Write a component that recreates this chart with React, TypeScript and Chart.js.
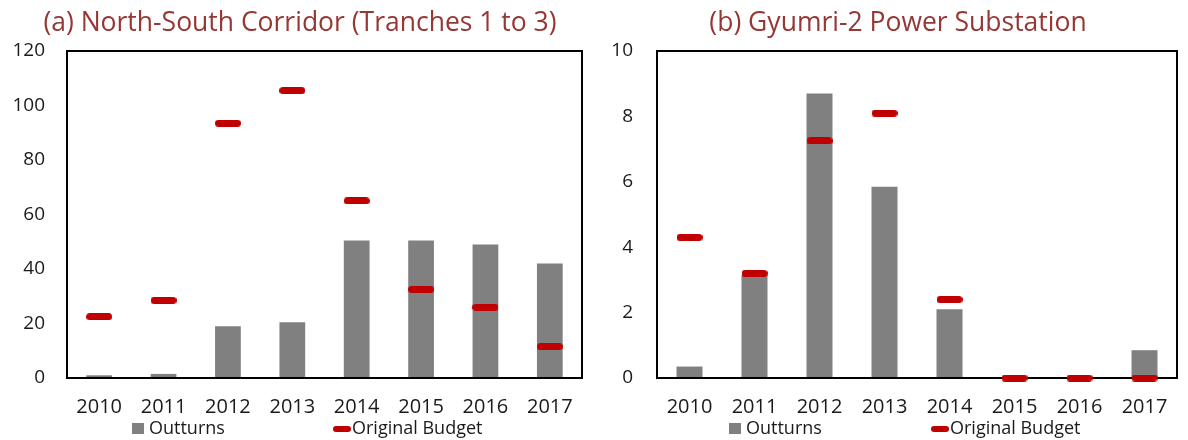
import React, { useEffect, useRef } from "react";
import { Chart, registerables } from "chart.js";

Chart.register(...registerables);

const years = ["2010", "2011", "2012", "2013", "2014", "2015", "2016", "2017"];
const nsOutturns = [1, 1.5, 19, 20.5, 50.5, 50.5, 49, 42];
const nsBudget = [22.5, 28.5, 93.5, 105.5, 65, 32.5, 26, 11.5];
const gyOutturns = [0.35, 3.15, 8.7, 5.85, 2.1, 0, 0, 0.85];
const gyBudget = [4.3, 3.2, 7.25, 8.1, 2.4, 0, 0, 0];
const nsAxis = { max: 120, step: 20 };
const gyAxis = { max: 10, step: 2 };
const titles = ["(a) North-South Corridor (Tranches 1 to 3)", "(b) Gyumri-2 Power Substation"];
const legendLabels = ["Outturns", "Original Budget"];

const FONT = "'Open Sans', 'Noto Sans', sans-serif";
const BAR = "#808080";
const RED = "#C00000";
const TEXT = "#1a1a1a";
const TITLE = "#953735";

function makeMarker(w: number, h: number, color: string) {
  const c = document.createElement("canvas");
  c.width = w;
  c.height = h;
  const g = c.getContext("2d")!;
  g.fillStyle = color;
  const r = h / 2;
  g.beginPath();
  g.moveTo(r, 0);
  g.lineTo(w - r, 0);
  g.arc(w - r, r, r, -Math.PI / 2, Math.PI / 2);
  g.lineTo(r, h);
  g.arc(r, r, r, Math.PI / 2, (3 * Math.PI) / 2);
  g.closePath();
  g.fill();
  return c;
}

const boxPlugin = {
  id: "boxFrame",
  afterDatasetDraw(chart: any, args: any) {
    if (args.meta.type !== "bar") return;
    const { ctx, chartArea } = chart;
    const { left, top, right, bottom } = chartArea;
    ctx.save();
    ctx.strokeStyle = "#000";
    ctx.lineWidth = 2;
    ctx.strokeRect(left, top, right - left, bottom - top);
    ctx.restore();
  },
};

type PanelProps = {
  outturns: number[];
  budget: number[];
  axis: { max: number; step: number };
  yWidth: number;
  tickPad: number;
  padRight: number;
};

function Panel({ outturns, budget, axis, yWidth, tickPad, padRight }: PanelProps) {
  const ref = useRef<HTMLCanvasElement>(null);
  useEffect(() => {
    const marker = makeMarker(26, 7, RED);
    const chart = new Chart(ref.current!, {
      type: "bar",
      data: {
        labels: years,
        datasets: [
          {
            type: "line",
            label: legendLabels[1],
            data: budget,
            showLine: false,
            pointStyle: marker as any,
            pointRadius: 10,
            clip: false as any,
            order: 0,
          } as any,
          {
            type: "bar",
            label: legendLabels[0],
            data: outturns,
            backgroundColor: BAR,
            borderWidth: 0,
            barPercentage: 0.4,
            categoryPercentage: 1,
            order: 1,
          },
        ],
      },
      options: {
        animation: false,
        responsive: true,
        maintainAspectRatio: false,
        layout: { padding: { top: 51, right: padRight, left: 0, bottom: 0 } },
        plugins: { legend: { display: false }, tooltip: { enabled: false }, title: { display: false } },
        scales: {
          x: {
            grid: { display: false, drawTicks: false },
            border: { display: false },
            ticks: { font: { family: FONT, size: 20 }, color: TEXT, padding: 17, maxRotation: 0 },
            afterFit: (s: any) => {
              s.height = 62;
            },
          },
          y: {
            min: 0,
            max: axis.max,
            grid: { display: false, drawTicks: false },
            border: { display: false },
            ticks: { stepSize: axis.step, font: { family: FONT, size: 19 }, color: TEXT, padding: tickPad },
            afterFit: (s: any) => {
              s.width = yWidth;
            },
          },
        },
      },
      plugins: [boxPlugin],
    });
    return () => chart.destroy();
  }, []);
  return <canvas ref={ref} />;
}

function LegendRow({ sq, red }: { sq: number; red: number }) {
  const text: React.CSSProperties = {
    position: "absolute",
    top: 418,
    fontFamily: FONT,
    fontSize: 18,
    lineHeight: "18px",
    color: TEXT,
    whiteSpace: "nowrap",
  };
  return (
    <>
      <div style={{ position: "absolute", left: sq, top: 423, width: 12, height: 11, background: BAR }} />
      <div style={{ ...text, left: sq + 17 }}>{legendLabels[0]}</div>
      <div style={{ position: "absolute", left: red, top: 425.5, width: 18, height: 6, borderRadius: 3, background: RED }} />
      <div style={{ ...text, left: red + 19 }}>{legendLabels[1]}</div>
    </>
  );
}

function Title({ center, text }: { center: number; text: string }) {
  return (
    <div
      style={{
        position: "absolute",
        left: center - 300,
        width: 600,
        top: 8,
        textAlign: "center",
        fontFamily: FONT,
        fontSize: 26.5,
        lineHeight: "26.5px",
        color: TITLE,
        whiteSpace: "nowrap",
      }}
    >
      {text}
    </div>
  );
}

export default function App() {
  return (
    <div style={{ position: "fixed", left: 0, top: 0, width: 1188, height: 440, background: "#fff" }}>
      <div style={{ position: "absolute", left: 0, top: 0, width: 594, height: 440 }}>
        <Panel outturns={nsOutturns} budget={nsBudget} axis={nsAxis} yWidth={67} tickPad={22} padRight={12} />
      </div>
      <div style={{ position: "absolute", left: 594, top: 0, width: 594, height: 440 }}>
        <Panel outturns={gyOutturns} budget={gyBudget} axis={gyAxis} yWidth={63} tickPad={24} padRight={3} />
      </div>
      <Title center={300} text={titles[0]} />
      <Title center={898} text={titles[1]} />
      <LegendRow sq={132} red={333} />
      <LegendRow sq={729} red={931} />
    </div>
  );
}
